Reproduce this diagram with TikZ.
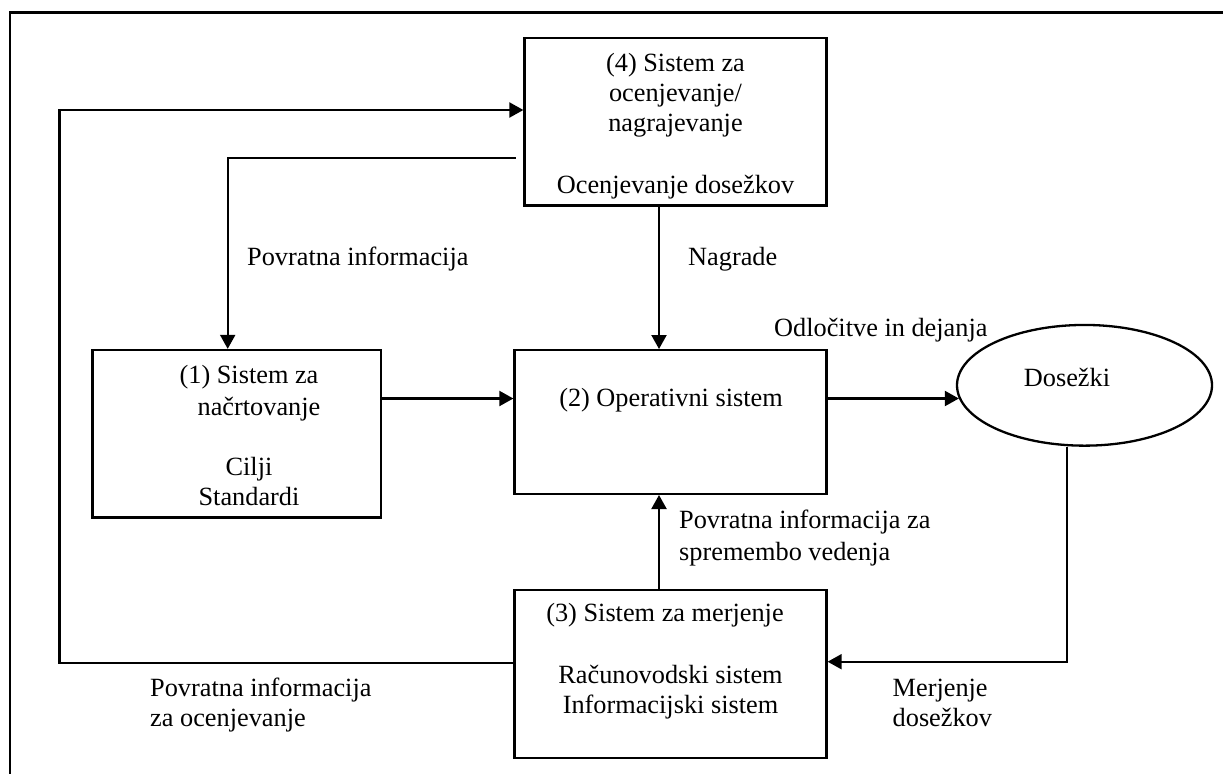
\documentclass[tikz,border=0pt]{standalone}
\usepackage{fontspec}
\setmainfont{Liberation Serif}
\usetikzlibrary{arrows.meta,shapes.geometric}
\begin{document}
\begin{tikzpicture}[x=1pt,y=-1pt,
  box/.style={draw, line width=2.3pt, rectangle, inner sep=0pt},
  oval/.style={draw, line width=2.3pt, ellipse, inner sep=0pt},
  conn/.style={line width=2.1pt},
  arr/.style={conn, -{Triangle[length=14pt,width=15pt]}},
  txt/.style={inner sep=0pt, font=\fontsize{26.3}{30}\selectfont, anchor=base},
  lbl/.style={txt, anchor=base west}]
\useasboundingbox (0,0) rectangle (1223,774);

% page frame (open at right and bottom)
\draw[line width=2.4pt] (1223,12.5) -- (10,12.5) -- (10,774);

% system boxes
\node[box, minimum width=302pt, minimum height=167.5pt] (b4) at (675.5,121.75) {};
\node[box, minimum width=288.5pt, minimum height=167.5pt] (b1) at (236.75,433.75) {};
\node[box, minimum width=312pt, minimum height=143.7pt] (b2) at (670.5,422) {};
\node[box, minimum width=312pt, minimum height=167.7pt] (b3) at (670.5,673.85) {};
\node[oval, minimum width=255pt, minimum height=120.7pt] (dos) at (1084.5,385.3) {};

% box texts
\node[txt] (t4a) at (675.5,71)  {(4) Sistem za};
\node[txt] (t4b) at (675.5,101) {ocenjevanje/};
\node[txt] (t4c) at (675.5,131) {nagrajevanje};
\node[txt] (t4d) at (675.5,193) {Ocenjevanje dosežkov};

\node[txt] (t1a) at (249,383) {(1) Sistem za};
\node[txt] (t1b) at (259,415) {načrtovanje};
\node[txt] (t1c) at (249,475) {Cilji};
\node[txt] (t1d) at (249,505) {Standardi};

\node[txt] (t2a) at (671,406) {(2) Operativni sistem};

\node[txt] (t3a) at (665,621) {(3) Sistem za merjenje};
\node[txt] (t3b) at (670.5,683) {Računovodski sistem};
\node[txt] (t3c) at (670.5,713) {Informacijski sistem};

\node[txt] (tdos) at (1067,386) {Dosežki};

% connector labels
\node[lbl] (lfb)  at (247,265) {Povratna informacija};
\node[lbl] (lnag) at (688,265) {Nagrade};
\node[lbl] (lodl) at (774,336) {Odločitve in dejanja};
\node[lbl] (lspa) at (679,528) {Povratna informacija za};
\node[lbl] (lspb) at (679,560) {spremembo vedenja};
\node[lbl] (lmea) at (892.5,696) {Merjenje};
\node[lbl] (lmeb) at (892.5,726) {dosežkov};
\node[lbl] (loca) at (150,696) {Povratna informacija};
\node[lbl] (locb) at (150,726) {za ocenjevanje};

% routing helpers
\coordinate (xnag)  at (659,0);
\coordinate (ymid)  at (0,398.5);
\coordinate (ytop)  at (0,110);
\coordinate (loopL) at (59.5,662.7);
\coordinate (fbS)   at (515.8,158);
\coordinate (xfb)   at (227.7,0);
\coordinate (xmeas) at (1067,0);
\coordinate (ymeas) at (0,661.7);

% connectors
\draw[arr] (b4.south -| xnag) -- (b2.north -| xnag);
\draw[arr] (b3.north -| xnag) -- (b2.south -| xnag);
\draw[arr] (b1.east |- ymid) -- (b2.west |- ymid);
\draw[arr] (b2.east |- dos.186) -- (dos.186);
\draw[arr] (fbS) -| (b1.north -| xfb);
\draw[arr] (b3.west |- loopL) -- (loopL) |- (b4.west |- ytop);
\draw[arr] (dos.south -| xmeas) |- (b3.east |- ymeas);
\end{tikzpicture}
\end{document}
